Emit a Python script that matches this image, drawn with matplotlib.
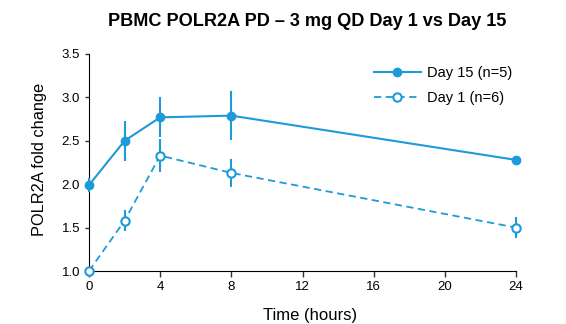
import matplotlib
matplotlib.use("Agg")
import matplotlib.pyplot as plt
from matplotlib.lines import Line2D

plt.rcParams['font.family'] = ['Liberation Sans', 'DejaVu Sans']

time = [0, 2, 4, 8, 24]
day15 = [1.99, 2.50, 2.77, 2.79, 2.28]
day15_err = [0.08, 0.23, 0.23, 0.28, 0.03]
day1 = [1.00, 1.58, 2.33, 2.13, 1.50]
day1_err = [0.0, 0.12, 0.19, 0.16, 0.12]
xticks = [0, 4, 8, 12, 16, 20, 24]
yticks = [1.0, 1.5, 2.0, 2.5, 3.0, 3.5]

color = '#1c9bd8'

fig = plt.figure(figsize=(5.66, 3.24), dpi=100)
ax = fig.add_axes([89/566, 1 - 271/324, (516-89)/566, (271-54)/324])

ax.errorbar(time, day15, yerr=day15_err, color=color, marker='o', markersize=6,
            linewidth=1.5, elinewidth=1.5, capsize=0, clip_on=False, zorder=3)
ax.errorbar(time, day1, yerr=day1_err, color=color, marker='o', markersize=6,
            markerfacecolor='white', markeredgewidth=1.5, linestyle='--', dashes=(4, 2.5),
            linewidth=1.3, elinewidth=1.5, capsize=0, clip_on=False, zorder=3)

ax.set_xlim(0, 24)
ax.set_ylim(1.0, 3.5)
ax.set_xticks(xticks)
ax.set_yticks(yticks)
ax.set_yticklabels([f'{v:.1f}' for v in yticks])
ax.spines['top'].set_visible(False)
ax.spines['right'].set_visible(False)
ax.tick_params(axis='both', labelsize=9.5, color='#333333', length=4, width=1)
ax.tick_params(axis='y', length=3)
ax.set_xlabel('Time (hours)', fontsize=12)
ax.xaxis.set_label_coords((310 - 89) / 427, -0.17)
ax.set_ylabel('POLR2A fold change', fontsize=11.8)
ax.yaxis.set_label_coords((47 - 89) / 427, (271 - 159) / 217)
fig.text(307.5 / 566, 1 - 22 / 324, 'PBMC POLR2A PD – 3 mg QD Day 1 vs Day 15',
         fontsize=13.1, fontweight='bold', ha='center', va='center')

handles = [
    Line2D([], [], color=color, marker='o', markersize=6, linewidth=1.5),
    Line2D([], [], color=color, marker='o', markersize=6, markerfacecolor='white',
           markeredgewidth=1.5, linestyle='--', dashes=(4, 2.5), linewidth=1.3),
]
leg = ax.legend(handles, ['Day 15 (n=5)', 'Day 1 (n=6)'], loc='upper left', frameon=False,
                fontsize=10.5, handlelength=3.2, handletextpad=0.45, labelspacing=0.75,
                bbox_to_anchor=(0.637, 1.006))

fig.savefig('out.png', dpi=100)
